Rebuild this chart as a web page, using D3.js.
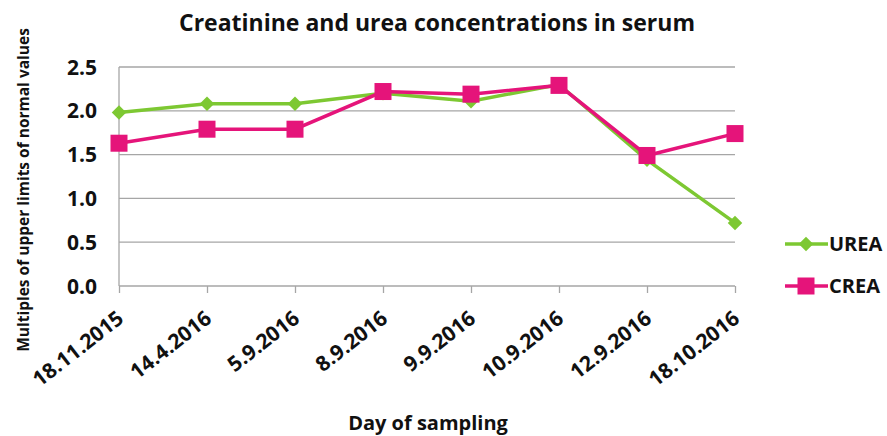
<!DOCTYPE html>
<html><head><meta charset="utf-8">
<script src="https://cdn.jsdelivr.net/npm/d3@7"></script>
<style>body{margin:0;background:#fff}svg{display:block}text{font-family:"Open Sans",Lato,sans-serif}</style>
</head><body><svg width="887" height="436"></svg>
<script>
const categories=["18.11.2015","14.4.2016","5.9.2016","8.9.2016","9.9.2016","10.9.2016","12.9.2016","18.10.2016"];
const urea=[1.98,2.08,2.08,2.2,2.11,2.3,1.44,0.72];
const crea=[1.63,1.79,1.79,2.22,2.19,2.29,1.49,1.74];
const yTicks=[0,0.5,1.0,1.5,2.0,2.5];
const seriesNames=["UREA","CREA"];
const colors={UREA:"#7dc832",CREA:"#e5147a"};

const svg=d3.select("svg");
const x=d3.scalePoint().domain(categories).range([119,735]);
const y=d3.scaleLinear().domain([0,2.5]).range([286,67]);

svg.append("g").selectAll("line").data(yTicks).join("line")
 .attr("x1",119).attr("x2",735).attr("y1",d=>y(d)).attr("y2",d=>y(d))
 .attr("stroke","#a6a6a6").attr("stroke-width",1.3);
svg.append("line").attr("x1",119).attr("x2",119).attr("y1",y(2.5)).attr("y2",y(0)).attr("stroke","#a6a6a6").attr("stroke-width",1.3);

svg.append("g").selectAll("text").data(yTicks).join("text")
 .attr("x",97).attr("y",d=>y(d)).attr("dy","0.36em").attr("text-anchor","end")
 .attr("font-size",21).attr("font-weight","bold").attr("fill","#111").text(d=>d.toFixed(1));

const xa=svg.append("g").attr("transform","translate(0,"+y(0)+")")
 .call(d3.axisBottom(x).tickSize(7).tickSizeOuter(0).tickFormat(""));
xa.select(".domain").remove();
xa.selectAll("line").attr("stroke","#a6a6a6").attr("stroke-width",1.3);
svg.append("g").selectAll("text").data(categories).join("text")
 .attr("transform",d=>`translate(${x(d)+6},${y(0)+35}) rotate(-38)`)
 .attr("text-anchor","end")
 .attr("font-size",21).attr("font-weight","bold").attr("fill","#111").text(d=>d);

const line=d3.line().x((d,i)=>x(categories[i])).y(d=>y(d));
svg.append("path").datum(urea).attr("d",line).attr("fill","none").attr("stroke",colors.UREA).attr("stroke-width",3.5);
svg.append("path").datum(crea).attr("d",line).attr("fill","none").attr("stroke",colors.CREA).attr("stroke-width",3.5);
const diamond=d3.symbol().type(d3.symbolSquare).size(105);
svg.append("g").selectAll("path").data(urea).join("path")
 .attr("transform",(d,i)=>`translate(${x(categories[i])},${y(d)}) rotate(45)`).attr("d",diamond).attr("fill",colors.UREA);
svg.append("g").selectAll("rect").data(crea).join("rect")
 .attr("x",(d,i)=>x(categories[i])-8.5).attr("y",d=>y(d)-8.5).attr("width",17).attr("height",17).attr("fill",colors.CREA);

const lg=svg.append("g");
seriesNames.forEach((n,i)=>{
 const ly=244+i*42;
 lg.append("line").attr("x1",785).attr("x2",828).attr("y1",ly).attr("y2",ly).attr("stroke",colors[n]).attr("stroke-width",3.5);
 if(n==="UREA") lg.append("path").attr("transform",`translate(806,${ly}) rotate(45)`).attr("d",diamond).attr("fill",colors[n]);
 else lg.append("rect").attr("x",797.5).attr("y",ly-8.5).attr("width",17).attr("height",17).attr("fill",colors[n]);
 lg.append("text").attr("x",829).attr("y",ly).attr("dy","0.36em").attr("font-size",20).attr("font-weight","bold").attr("fill","#111").text(n);
});

svg.append("text").attr("x",437).attr("y",31).attr("text-anchor","middle").attr("font-size",23).attr("font-weight","bold").attr("fill","#111").text("Creatinine and urea concentrations in serum");
svg.append("text").attr("x",428).attr("y",430).attr("text-anchor","middle").attr("font-size",20).attr("font-weight","bold").attr("fill","#111").text("Day of sampling");
svg.append("text").attr("transform","translate(29,190) rotate(-90)").attr("text-anchor","middle").attr("font-size",15.5).attr("font-weight","bold").attr("fill","#111").text("Multiples of upper limits of normal values");
</script></body></html>
